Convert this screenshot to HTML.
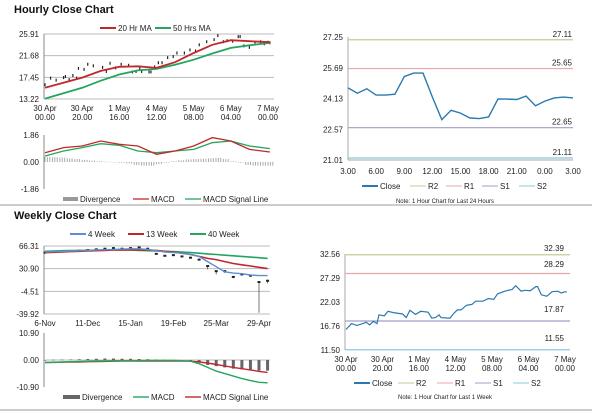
<!DOCTYPE html>
<html><head><meta charset="utf-8"><style>
html,body{margin:0;padding:0;background:#fff;}
svg{display:block;font-family:"Liberation Sans",Arial,sans-serif;}
</style></head><body>
<svg id="c" width="600" height="413" viewBox="0 0 600 413"></svg>
<script>
// ---------- data ----------
const hourHours=[0,3,6,10,11,13,15,17,18,21,23,26,31,33,35,38,41,45,47,49,51,52,56,57,59,61,63,66,69,71,75,78,81,83,87,91,93,96,98,101,104,105,107,110,113,116,118,120,121];
const hourCloses=[16.0,17.3,16.9,17.4,17.6,17.0,17.8,17.3,19.2,19.0,20.0,19.7,19.4,18.6,20.2,19.3,20.0,19.8,18.5,18.6,19.2,18.6,18.5,18.5,19.5,20.3,20.3,21.3,21.5,22.2,22.2,22.8,22.6,23.8,24.4,24.8,25.6,24.4,24.6,24.5,25.4,25.4,23.6,23.3,24.3,24.4,24.0,24.3,24.2];
const maHours=[0,20,30,40,50,60,70,80,90,100,110,121];
const ma20=[15.4,17.4,18.7,19.5,19.6,19.3,20.4,22.2,23.8,24.7,24.5,24.3];
const ma50=[13.3,15.4,16.8,18.0,18.8,19.1,19.9,20.9,22.1,23.2,23.7,24.2];
const macdHours=[0,10,20,30,40,50,60,70,80,90,100,110,121];
const hMacd=[0.64,0.99,1.10,1.45,1.22,1.10,0.53,0.76,1.10,1.68,1.45,0.87,0.69];
const hSignal=[0.41,0.76,0.99,1.26,1.15,0.76,0.64,0.76,0.87,1.33,1.45,1.10,0.92];
const divHours=[0,4,8,12,16,20,24,28,32,36,40,44,48,52,56,60,64,68,72,76,80,84,88,92,96,100,104,108,112,116,120];
const hDiv=[0.35,0.33,0.3,0.25,0.2,0.15,0.1,0.05,0.02,0,-0.05,-0.1,-0.2,-0.25,-0.25,-0.15,-0.05,0.05,0.12,0.18,0.2,0.22,0.25,0.28,0.2,0.05,-0.05,-0.2,-0.25,-0.25,-0.25];
const dayLabels1=["30 Apr","30 Apr","1 May","4 May","5 May","6 May","7 May"];
const dayLabels2=["00.00","20.00","16.00","12.00","08.00","04.00","00.00"];
const dayLabelHours=[0,20,40,60,80,100,120];
const h24Close=[24.67,24.40,24.62,24.30,24.30,24.35,25.24,25.42,25.42,24.2,23.06,23.53,23.39,23.14,23.11,23.19,24.11,24.10,24.08,24.25,23.76,24.0,24.16,24.20,24.16];
const h24Ticks=["3.00","6.00","9.00","12.00","15.00","18.00","21.00","0.00","3.00"];
const h24Levels=[27.11,25.65,22.65,21.11];
const wkLevels=[32.39,28.29,17.87,11.55];
const weekLabels=["6-Nov","11-Dec","15-Jan","19-Feb","25-Mar","29-Apr"];
const wk4=[57,57.5,58,58.5,59,59.5,60,60.5,61,61.5,62,62,61,59,57,56,55,53,50,42,34,26,24,23,21,20,20];
const wk13=[56,56.5,57,57.5,58,58.5,59,59.5,60,60,60,60,60,59.5,58,57,55,53,50,47,45,42,39,37,35,33,31];
const wk40=[58,58.5,59,59.2,59.4,59.6,59.8,60,60,60,60,59.5,59,58.5,58,57.5,57,56,55,54,53,52,51,50,49,48,47];
const wkClose=[56,57,58,58.5,59,60,61,62,63,62,63,64,62,54,51,52,50,48,45,35,27,27,18,22,20,10,12];
const wkLow=[55,56,57,57.5,58,59,60,61,62,61,62,63,61,53,50,51,49,47,44,30,22,24,16,20,18,-38,8];
const wMacd=[-1,-0.9,-0.8,-0.7,-0.6,-0.5,-0.4,-0.35,-0.3,-0.3,-0.3,-0.25,-0.2,-0.2,-0.2,-0.2,-0.3,-0.5,-1.5,-3,-4.5,-5.5,-6.5,-7.5,-8.3,-9,-9.2];
const wSignal=[-1,-0.95,-0.9,-0.85,-0.8,-0.7,-0.6,-0.55,-0.5,-0.45,-0.4,-0.4,-0.4,-0.4,-0.4,-0.4,-0.45,-0.5,-0.8,-1.2,-1.8,-2.4,-3,-3.5,-4,-4.6,-5];
const wDiv=[0,0.1,0.15,0.2,0.3,0.4,0.5,0.6,0.6,0.5,0.5,0.4,0.3,0.2,0.1,0.05,0,-0.5,-1,-2,-2.5,-3,-3.5,-3.8,-4,-4.3,-4.3];

// ---------- helpers ----------
const S=document.getElementById('c');const NS='http://www.w3.org/2000/svg';
function el(t,a,p){const e=document.createElementNS(NS,t);for(const k in a)e.setAttribute(k,a[k]);(p||S).appendChild(e);return e;}
function txt(x,y,s,o){o=o||{};const e=el('text',{x:x,y:y,'font-size':o.fs||8,fill:o.fill||'#222','text-anchor':o.a||'start','font-weight':o.fw||'normal'});e.textContent=s;return e;}
function lin(x1,y1,x2,y2,c,w){return el('line',{x1:x1,y1:y1,x2:x2,y2:y2,stroke:c,'stroke-width':w||1});}
function lsc(d0,d1,r0,r1){return v=>r0+(v-d0)*(r1-r0)/(d1-d0);}
function poly(xs,ys,fx,fy,c,w,name){const e=el('polyline',{points:xs.map((x,i)=>fx(x).toFixed(1)+','+fy(ys[i]).toFixed(1)).join(' '),fill:'none',stroke:c,'stroke-width':w});

return e;}
function legLine(x,y,c,label,w){lin(x,y,x+16,y,c,w||2);const t=txt(x+18,y+3,label);

}

// separators
lin(0,205,592,205,'#999',1);lin(0,410,592,410,'#999',1);

// ===== Hourly close (top-left) =====
txt(14,13,'Hourly Close Chart',{fs:11,fw:'bold',fill:'#111'});
legLine(100,28,'#c0282d','20 Hr MA');legLine(155,28,'#25a55f','50 Hrs MA');
const hx=lsc(0,120,45,268), hy=lsc(13.22,25.91,99,34);
[25.91,21.68,17.45,13.22].forEach(v=>{lin(44,hy(v),274,hy(v),'#bbb',1);txt(39,hy(v)+3,v.toFixed(2),{a:'end'});});
lin(44,34,44,99,'#888');
dayLabelHours.forEach((h,i)=>{txt(hx(h),111,dayLabels1[i],{a:'middle'});txt(hx(h),120,dayLabels2[i],{a:'middle'});});
hourHours.forEach((h,i)=>{const v=hourCloses[i];const c=el('rect',{x:hx(h)-0.6,y:hy(v)-1.5,width:1.2,height:3,fill:'#222'});

});
poly(maHours,ma50,hx,hy,'#25a55f',1.8,'ma50-line');
poly(maHours,ma20,hx,hy,'#c0282d',1.8,'ma20-line');
// hourly MACD
const my=lsc(-1.86,1.86,189,135);
txt(39,my(1.86)+3,'1.86',{a:'end'});txt(39,my(0)+3,'0.00',{a:'end'});txt(39,my(-1.86)+3,'-1.86',{a:'end'});
lin(44,135,44,189,'#888');
divHours.forEach((h,i)=>{const y0=my(0),y1=my(hDiv[i]);for(let k=0;k<3;k++){const b=el('rect',{x:hx(h)+k*2.4-0.5,y:Math.min(y0,y1),width:1,height:Math.max(0.5,Math.abs(y1-y0)),fill:'#aaa'});

}});
poly(macdHours,hSignal,hx,my,'#25a55f',1.3,'macd-signal-line');
poly(macdHours,hMacd,hx,my,'#c0282d',1.3,'macd-line');
el('rect',{x:63,y:197,width:15,height:4,fill:'#999'});txt(80,202,'Divergence');
legLine(133,199,'#c0282d','MACD',1.3);legLine(185,199,'#25a55f','MACD Signal Line',1.3);

// ===== 24h chart (top-right) =====
const rx=lsc(0,24,348,573), ry=lsc(21.01,27.25,160,37);
const lvlCol=['#c8c896','#e6a8a8','#a89ac8','#8cc8dc'];
[27.25,25.69,24.13,22.57,21.01].forEach(v=>txt(343,ry(v)+3,v.toFixed(2),{a:'end'}));
lin(348,37,348,160,'#aaa');lin(348,160,573,160,'#aaa');
h24Levels.forEach((v,i)=>{lin(348,ry(v),573,ry(v),lvlCol[i],1.2);txt(572,ry(v)-3,v.toFixed(2),{a:'end'});});
h24Ticks.forEach((t,i)=>txt(rx(i*3),174,t,{a:'middle'}));
poly(h24Close.map((v,i)=>i),h24Close,rx,ry,'#2a7ab0',1.4,'close-line-24h');
legLine(362,186,'#2a7ab0','Close');legLine(410,186,lvlCol[0],'R2',1);legLine(446,186,lvlCol[1],'R1',1);legLine(482,186,lvlCol[2],'S1',1);legLine(519,186,lvlCol[3],'S2',1);
txt(445,203,'Note: 1 Hour Chart for Last 24 Hours',{a:'middle',fs:6});

// ===== Weekly (bottom-left) =====
txt(14,219,'Weekly Close Chart',{fs:11,fw:'bold',fill:'#111'});
legLine(70,234,'#5b8fd0','4 Week');legLine(128,234,'#c0282d','13 Week');legLine(190,234,'#25a55f','40 Week');
const wx=lsc(0,25,45,259), wy=lsc(-39.92,66.31,314,246);
[66.31,30.9,-4.51,-39.92].forEach(v=>{lin(44,wy(v),270,wy(v),'#bbb',1);txt(39,wy(v)+3,v.toFixed(2),{a:'end'});});
lin(44,246,44,314,'#888');
weekLabels.forEach((t,i)=>txt(wx(i*5),326,t,{a:'middle'}));
wkClose.forEach((v,i)=>{lin(wx(i),wy(wkLow[i]),wx(i),wy(v+1.5),'#555',0.8);const r=el('rect',{x:wx(i)-1.5,y:wy(v)-1,width:3,height:2,fill:'#222'});

});
const idx=wk4.map((v,i)=>i);
poly(idx,wk40,wx,wy,'#25a55f',1.6,'wk40-line');poly(idx,wk13,wx,wy,'#c0282d',1.6,'wk13-line');poly(idx,wk4,wx,wy,'#5b8fd0',1.4,'wk4-line');
// weekly MACD
const wmy=lsc(-10.9,10.9,387,333);
[10.9,0,-10.9].forEach(v=>txt(39,wmy(v)+3,v.toFixed(2),{a:'end'}));
lin(44,333,44,387,'#888');lin(44,wmy(0),270,wmy(0),'#bbb');
wDiv.forEach((v,i)=>{const y0=wmy(0),y1=wmy(v);const b=el('rect',{x:wx(i)-1.5,y:Math.min(y0,y1),width:3,height:Math.max(0.6,Math.abs(y1-y0)),fill:'#666'});

});
poly(idx,wSignal,wx,wmy,'#c0282d',1.4,'weekly-signal-line');poly(idx,wMacd,wx,wmy,'#25a55f',1.4,'weekly-macd-line');
el('rect',{x:63,y:395,width:17,height:4,fill:'#666'});txt(82,400,'Divergence');
legLine(133,397,'#25a55f','MACD',1.4);legLine(185,397,'#c0282d','MACD Signal Line',1.4);

// ===== 1 week chart (bottom-right) =====
const bx=lsc(0,120,346,565), by=lsc(11.5,32.56,350,254);
[32.56,27.29,22.03,16.76,11.5].forEach(v=>txt(340,by(v)+3,v.toFixed(2),{a:'end'}));
lin(345,254,345,350,'#aaa');
wkLevels.forEach((v,i)=>{lin(345,by(v),570,by(v),lvlCol[i],1.2);});
txt(564,251,'32.39',{a:'end'});txt(564,267,'28.29',{a:'end'});txt(564,312,'17.87',{a:'end'});txt(564,341,'11.55',{a:'end'});
dayLabelHours.forEach((h,i)=>{txt(bx(h),362,dayLabels1[i],{a:'middle'});txt(bx(h),371,dayLabels2[i],{a:'middle'});});
poly(hourHours,hourCloses,bx,by,'#2a7ab0',1.2,'close-line-week');
legLine(354,383,'#2a7ab0','Close');legLine(398,383,lvlCol[0],'R2',1);legLine(437,383,lvlCol[1],'R1',1);legLine(475,383,lvlCol[2],'S1',1);legLine(513,383,lvlCol[3],'S2',1);
txt(445,399,'Note: 1 Hour Chart for Last 1 Week',{a:'middle',fs:6});
</script>
</body></html>
